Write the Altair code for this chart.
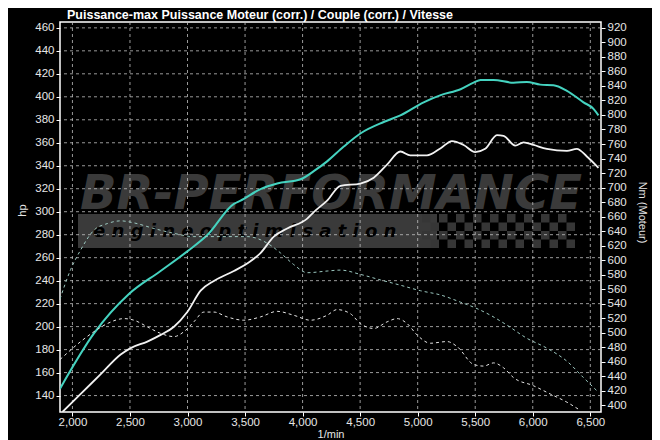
import altair as alt
import pandas as pd

# ---------------- data ----------------
rpm_pmax = [1892, 2187, 2491, 2766, 2998, 3172, 3403, 3461, 3634, 3779, 3982, 4097, 4213,
            4358, 4502, 4705, 4850, 5052, 5200, 5373, 5486, 5546, 5660, 5833, 5949, 6065,
            6180, 6297, 6441, 6528, 6571]
hp_pmax = [146.0, 194.1, 228.4, 248.4, 265.5, 279.7, 306.8, 309.6, 319.6, 324.5, 328.2, 335.3,
           343.8, 356.7, 368.1, 378.1, 383.8, 395.2, 401.5, 406.6, 412.3, 414.6, 414.6, 412.3,
           412.9, 410.6, 410.1, 405.2, 395.2, 389.5, 383.8]

rpm_p = [1913, 2072, 2246, 2419, 2506, 2651, 2767, 2882, 2998, 3114, 3229, 3403, 3547, 3634,
         3750, 3866, 4040, 4097, 4213, 4329, 4502, 4618, 4734, 4850, 4936, 5081, 5200, 5298,
         5399, 5500, 5587, 5689, 5746, 5848, 5920, 6007, 6123, 6297, 6383, 6470, 6571]
hp_p = [125.7, 141.5, 158.6, 175.7, 181.3, 187.0, 192.8, 199.9, 212.7, 231.3, 239.8, 248.4,
        256.9, 264.0, 278.3, 285.4, 294.0, 299.7, 309.6, 322.5, 324.5, 329.6, 341.0, 352.4,
        349.0, 349.0, 355.3, 361.5, 358.1, 351.9, 354.7, 366.7, 366.1, 357.5, 360.4, 358.1,
        354.7, 353.0, 354.7, 348.1, 338.2]

rpm_tmax = [1892, 1985, 2072, 2187, 2304, 2419, 2535, 2708, 2882, 3055, 3229, 3519, 3693,
            3809, 3923, 4040, 4213, 4329, 4502, 4676, 4850, 5024, 5200, 5373, 5486, 5633,
            5776, 5949, 6123, 6297, 6441, 6557]
nm_tmax = [546.6, 587.3, 614.3, 641.4, 650.5, 654.2, 651.4, 643.7, 637.0, 632.5, 632.5, 632.5,
           623.4, 609.9, 594.0, 582.8, 585.1, 586.4, 580.5, 572.9, 565.6, 558.0, 552.1, 542.2,
           535.4, 524.2, 510.6, 492.5, 478.9, 460.9, 438.3, 420.3]

rpm_t = [1892, 2072, 2187, 2304, 2448, 2535, 2651, 2767, 2882, 2969, 3055, 3142, 3229, 3345,
         3489, 3634, 3779, 3923, 4068, 4213, 4300, 4416, 4502, 4618, 4734, 4821, 4908, 4995,
         5110, 5255, 5342, 5486, 5573, 5660, 5746, 5833, 6007, 6152, 6297, 6413]
nm_t = [463.2, 488.0, 501.6, 512.8, 519.6, 517.4, 508.3, 499.2, 494.8, 501.6, 515.1, 528.6,
        528.6, 521.9, 517.4, 521.9, 529.6, 524.2, 517.4, 524.2, 532.0, 526.3, 512.8, 506.0,
        515.1, 519.6, 512.8, 497.1, 485.7, 488.0, 481.2, 456.5, 454.2, 458.6, 451.9, 438.3,
        427.1, 415.8, 404.5, 393.2]

x_ticks = [2000, 2500, 3000, 3500, 4000, 4500, 5000, 5500, 6000, 6500]
hp_ticks = list(range(140, 461, 20))
nm_ticks = list(range(400, 921, 20))

title_text = "Puissance-max Puissance Moteur (corr.) / Couple (corr.) / Vitesse"
wm_big = "BR-PERFORMANCE"
wm_small = "e n g i n e   o p t i m i s a t i o n"

# ---------------- layout ----------------
W, H = 541, 390
X_DOM = [1892, 6593]
HP_DOM = [125.7, 465.1]
NM_DOM = [391, 928]
FONT = "Liberation Sans"
GRID = "#c0c0c0"

xs = alt.Scale(domain=X_DOM, nice=False, zero=False)
hps = alt.Scale(domain=HP_DOM, nice=False, zero=False)
nms = alt.Scale(domain=NM_DOM, nice=False, zero=False)

x_axis = alt.Axis(values=x_ticks, format=",d", title="1/min", titleY=22,
                  titleBaseline="middle", labelPadding=0)
hp_axis = alt.Axis(values=hp_ticks, title="hp", orient="left",
                   titleX=-38, titleY=188, titleBaseline="middle")
nm_axis = alt.Axis(values=nm_ticks, title="Nm (Moteur)", orient="right",
                   titleX=40, titleY=190, titleBaseline="middle")

one = pd.DataFrame({"k": [0]})

# watermark decorations (pixel positions inside the plot area)
band = alt.Chart(one).mark_rect(color="#3a3a3a").encode(
    x=alt.value(18), x2=alt.value(377), y=alt.value(192), y2=alt.value(226))

cells = []
for i in range(18):
    for j in range(4):
        if (i + j) % 2 == 0:
            x0 = 362 + i * 8.5
            y0 = 192 + j * 8.5
            cells.append({"x0": x0, "x1": x0 + 8.5, "y0": y0, "y1": y0 + 8.5})
checker = alt.Chart(pd.DataFrame(cells)).mark_rect(color="#363636").encode(
    x=alt.X("x0:Q", scale=None), x2="x1:Q",
    y=alt.Y("y0:Q", scale=None), y2="y1:Q")

big = alt.Chart(one).mark_text(
    text=wm_big, font="DejaVu Sans", fontSize=48, fontStyle="italic", fontWeight="bold",
    color="#3a3a3a", align="left", baseline="alphabetic").encode(
    x=alt.value(20), y=alt.value(187))

small = alt.Chart(one).mark_text(
    text=wm_small, font="DejaVu Sans", fontSize=18, fontStyle="italic", fontWeight="bold",
    color="#000000", align="left", baseline="middle").encode(
    x=alt.value(33), y=alt.value(210))

title = alt.Chart(one).mark_text(
    text=title_text, font=FONT, fontSize=12.5, fontWeight="bold", color="#ffffff",
    align="center", baseline="alphabetic").encode(
    x=alt.value(200), y=alt.value(-3))

# grid
vgrid = alt.Chart(pd.DataFrame({"rpm": x_ticks})).mark_rule(
    color=GRID, strokeDash=[3, 3], strokeWidth=0.8).encode(
    x=alt.X("rpm:Q", scale=xs, axis=x_axis))
hgrid = alt.Chart(pd.DataFrame({"hp": hp_ticks})).mark_rule(
    color=GRID, strokeDash=[3, 3], strokeWidth=0.8).encode(
    y=alt.Y("hp:Q", scale=hps, axis=hp_axis))

pmax = alt.Chart(pd.DataFrame({"rpm": rpm_pmax, "hp": hp_pmax})).mark_line(
    color="#45d3c0", strokeWidth=2, interpolate="monotone", clip=True).encode(
    x=alt.X("rpm:Q", scale=xs, axis=x_axis),
    y=alt.Y("hp:Q", scale=hps, axis=hp_axis))

pw = alt.Chart(pd.DataFrame({"rpm": rpm_p, "hp": hp_p})).mark_line(
    color="#f2f2f2", strokeWidth=1.8, interpolate="monotone", clip=True).encode(
    x=alt.X("rpm:Q", scale=xs, axis=x_axis),
    y=alt.Y("hp:Q", scale=hps, axis=hp_axis))

tmax = alt.Chart(pd.DataFrame({"rpm": rpm_tmax, "nm": nm_tmax})).mark_line(
    color="#9cc8c0", strokeWidth=1, strokeDash=[3, 3], interpolate="monotone",
    clip=True).encode(
    x=alt.X("rpm:Q", scale=xs, axis=x_axis),
    y=alt.Y("nm:Q", scale=nms, axis=nm_axis))

tq = alt.Chart(pd.DataFrame({"rpm": rpm_t, "nm": nm_t})).mark_line(
    color="#e6e6e6", strokeWidth=1, strokeDash=[3, 3], interpolate="monotone",
    clip=True).encode(
    x=alt.X("rpm:Q", scale=xs, axis=x_axis),
    y=alt.Y("nm:Q", scale=nms, axis=nm_axis))

hp_group = alt.layer(band, checker, big, small, vgrid, hgrid, pmax, pw, title)
nm_group = alt.layer(tmax, tq)

chart = alt.layer(hp_group, nm_group).resolve_scale(y="independent").properties(
    width=W, height=H, autosize="none",
    padding={"left": 52, "top": 14, "right": 51, "bottom": 28},
    background="#000000",
).configure_view(
    stroke="#ffffff", strokeWidth=1.5
).configure_axis(
    domain=False, grid=False, ticks=True, tickColor="#ffffff", tickSize=4,
    labelColor="#e6e6e6", labelFont=FONT, labelFontSize=11.5, labelPadding=2,
    titleColor="#e6e6e6", titleFont=FONT, titleFontSize=11, titleFontWeight="normal",
    labelOverlap=False,
)

chart.save("out.html", embed_options={"renderer": "svg", "actions": False})
